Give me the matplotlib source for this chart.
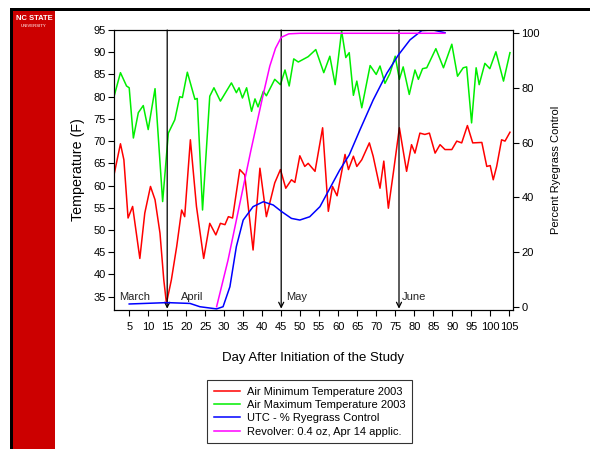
import matplotlib
matplotlib.use("Agg")
import matplotlib.pyplot as plt
from matplotlib.patches import Rectangle
from matplotlib.lines import Line2D

plt.rcParams['font.family'] = ['Liberation Sans', 'DejaVu Sans']

# air minimum temperature (F)
min_days = [1, 2.7, 3.6, 4.7, 5.9, 7.8, 9.1, 10.6, 11.8, 13.1, 14.1, 14.8, 16.1, 17.5,
            18.8, 19.6, 21.1, 22.7, 24.6, 26.2, 27.8, 29, 30.2, 31.1, 32.2, 34.1, 35.4,
            37.6, 39.4, 41.1, 43.3, 44.8, 46.2, 47.7, 48.6, 49.9, 51.2, 52.1, 53.9, 55.9,
            57.4, 58.5, 59.7, 61.8, 62.7, 64, 64.9, 66.2, 68.2, 69.2, 71, 72, 73.2, 74.5,
            76.1, 78, 79.3, 80.2, 81.5, 82.8, 84, 85.5, 86.8, 88.1, 89.9, 91.2, 92.5, 94,
            95.4, 97.8, 99.1, 100, 100.8, 101.7, 103, 103.9, 105.2]
min_temp = [62.4, 69.4, 65.8, 52.7, 55.3, 43.6, 53.8, 59.8, 56.8, 49.3, 38.8, 33.5, 38.8, 46.3,
            54.5, 53, 70.3, 55.3, 43.6, 51.5, 48.9, 51.5, 51.2, 53, 52.7, 63.6, 62.4,
            45.5, 63.9, 53, 60.6, 63.6, 59.4, 61.3, 60.7, 66.7, 64.3, 65, 63.2, 73,
            54.2, 59.8, 57.7, 67, 63.6, 66.6, 64.3, 65.8, 69.6, 66.6, 59.4, 65.5, 54.9, 62.8,
            73, 63.2, 69.2, 67.3, 71.8, 71.5, 71.8, 67.3, 69.2, 68.1, 68.1, 70, 69.6, 73.5,
            69.6, 69.7, 64.3, 64.5, 61.3, 64.3, 70.3, 70, 72]

# air maximum temperature (F)
max_days = [1, 2.7, 4.3, 5, 6.1, 7.4, 8.7, 10, 11.8, 13.8, 15.3, 17, 18.3, 19, 20.3, 22.3,
            22.9, 24.3, 26.2, 27.3, 29, 31.9, 33.2, 33.9, 34.8, 35.9, 37.2, 38.1, 38.9,
            40.3, 41.1, 43.3, 44.8, 46, 47.1, 48.3, 49.5, 52.1, 54.1, 56.2, 57.8, 59.2,
            60.9, 62, 62.9, 64, 64.9, 66.2, 68.4, 70, 71, 72.3, 73.6, 75, 76.1, 77.1, 78.7,
            80.2, 81.1, 82.2, 83.3, 85.7, 87.7, 89.9, 91.4, 92.9, 93.8, 95.1, 96.3, 97.1,
            98.6, 99.9, 101.5, 103.5, 105.2]
max_temp = [80, 85.4, 82.4, 82, 70.7, 76.4, 78, 72.6, 81.8, 56.4, 71.8, 74.8, 80, 79.8, 85.5, 79.4,
            79.6, 54.5, 80.1, 82, 79, 83.1, 80.9, 82, 79.7, 82, 76.7, 79.5, 77.7,
            81.2, 80.2, 83.9, 82.7, 86, 82.4, 88.5, 87.8, 89, 90.6, 85.4, 89.1, 82.7,
            94.8, 88.8, 89.9, 80.3, 83.5, 77.5, 87, 85, 86.9, 83, 85.2, 89.1, 83.9, 86.7, 80.5,
            86, 83.9, 86.3, 86.5, 90.8, 86.5, 91.8, 84.6, 86.5, 86.7, 74.1, 86.5, 82.7,
            87.5, 86.3, 90.1, 83.5, 89.9]

# UTC - % ryegrass control
utc_days = [5, 15, 21, 23.6, 28, 29.7, 31.5, 33.2, 35, 37.6, 40.3, 42.9, 45.1, 47.7, 49.9,
            52.5, 55.2, 57.8, 60.4, 62.9, 65.7, 69.2, 72.8, 75.8, 78.9, 82, 85, 88.1]
utc_ctrl = [1.0, 1.5, 1.2, 0, -0.8, 0, 7.3, 22, 31.7, 36.6, 38.4, 37.2, 34.8, 32.3, 31.7,
            32.9, 36.6, 43.3, 50, 55.5, 64.6, 75.6, 85.4, 92, 97.6, 101, 101.2, 100.2]

# Revolver 0.4 oz, Apr 14 application
rev_days = [28, 31, 34, 37, 40, 42, 43.5, 45, 47, 50, 88]
rev_ctrl = [0, 17, 37, 57, 76, 88, 94.5, 98.5, 99.8, 100, 100]

month_days = [15, 45, 76]
month_names = ["March", "April", "May", "June"]
month_label_x = [2.3, 18.5, 46.3, 76.7]

fig = plt.figure(figsize=(5.9, 4.49), dpi=100)

# slide decoration: red bar with NC State logo
fig.patches.append(Rectangle((13/590, 0), 42/590, 1 - 11/449, transform=fig.transFigure,
                             facecolor='#cc0000', edgecolor='none'))
fig.patches.append(Rectangle((10/590, 0), 3/590, 1 - 8/449, transform=fig.transFigure,
                             facecolor='black', edgecolor='none'))
fig.patches.append(Rectangle((10/590, 1 - 11/449), 580/590, 3/449, transform=fig.transFigure,
                             facecolor='black', edgecolor='none'))
fig.text(34/590, 1 - 18/449, "NC STATE", color='white', fontsize=5.5, fontweight='bold',
         ha='center', va='center')
fig.text(34/590, 1 - 26/449, "UNIVERSITY", color='#f4b0b0', fontsize=3.2, fontweight='bold',
         ha='center', va='center')

ax = fig.add_axes([114/590, 1 - 310/449, (513 - 114)/590, (310 - 30)/449])
ax2 = ax.twinx()

ax.plot(min_days, min_temp, color='#ff0000', lw=1.1)
ax.plot(max_days, max_temp, color='#00ee00', lw=1.1)
ax2.plot(utc_days, utc_ctrl, color='#0000ff', lw=1.1)
ax2.plot(rev_days, rev_ctrl, color='#ff00ff', lw=1.1)

ax.set_xlim(1, 106)
ax.set_ylim(32, 95)
ax2.set_ylim(-1.2, 101.2)

ax.set_xticks(range(5, 106, 5))
ax.set_yticks(range(35, 96, 5))
ax2.set_yticks(range(0, 101, 20))
ax.tick_params(labelsize=8, length=4, width=0.8, pad=2)
ax2.tick_params(labelsize=8, length=4, width=0.8, pad=2)
ax.tick_params(axis='x', pad=5)

for d in month_days:
    ax.annotate("", xy=(d, 32.3), xytext=(d, 95),
                arrowprops=dict(arrowstyle='->', color='black', lw=0.9, mutation_scale=9,
                                shrinkA=0, shrinkB=0))
for x, name in zip(month_label_x, month_names):
    ax.text(x, 35, name, fontsize=8, color='#222222', va='center', ha='left')

ax.set_xlabel("Day After Initiation of the Study", fontsize=9.5, labelpad=14)
ax.set_ylabel("Temperature (F)", fontsize=10.3, labelpad=6)
ax2.set_ylabel("Percent Ryegrass Control", fontsize=8, labelpad=8)

handles = [Line2D([], [], color='#ff0000', lw=1.1),
           Line2D([], [], color='#00ee00', lw=1.1),
           Line2D([], [], color='#0000ff', lw=1.1),
           Line2D([], [], color='#ff00ff', lw=1.1)]
labels = ["Air Minimum Temperature 2003", "Air Maximum Temperature 2003",
          "UTC - % Ryegrass Control", "Revolver: 0.4 oz, Apr 14 applic."]
leg = fig.legend(handles, labels, loc='upper left', bbox_to_anchor=(207/590, 1 - 380/449),
                 fontsize=8, frameon=True, fancybox=False, edgecolor='black',
                 handlelength=2.4, labelspacing=0.3, borderpad=0.6, handletextpad=0.6,
                 borderaxespad=0)
leg.get_frame().set_linewidth(0.8)

fig.savefig("out.png", dpi=100)
